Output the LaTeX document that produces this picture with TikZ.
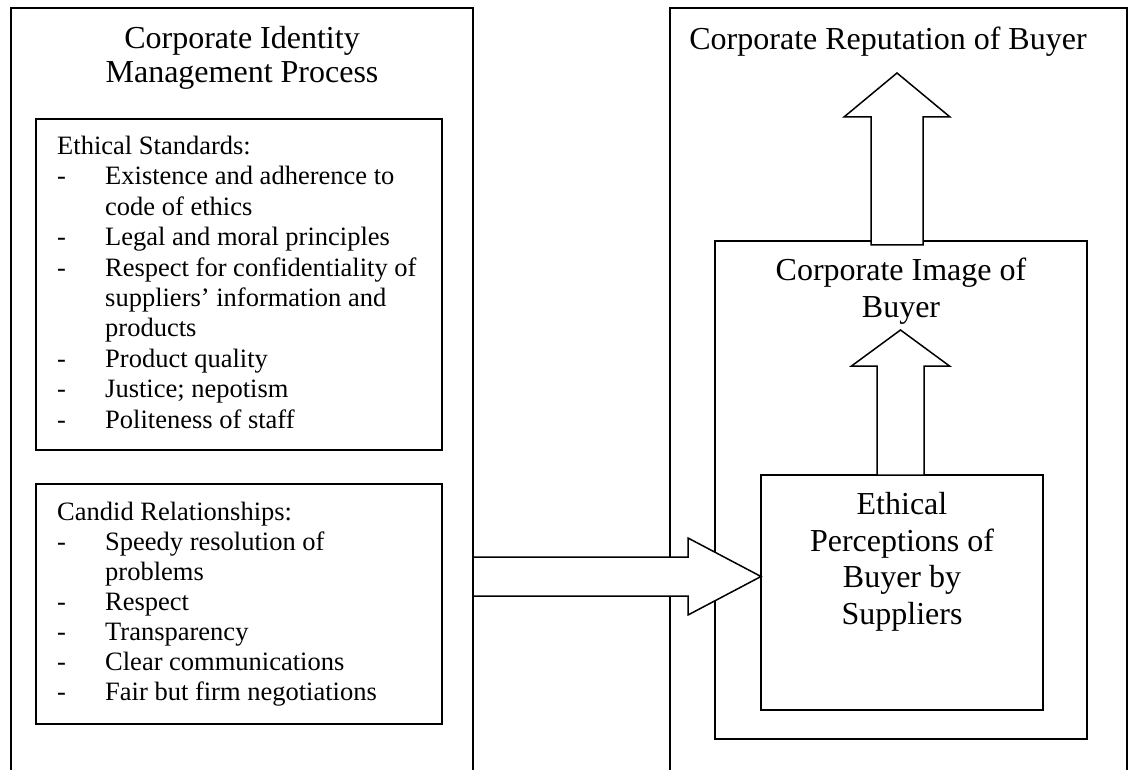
\documentclass[tikz,border=0pt]{standalone}
\usepackage{fontspec}
\setmainfont{Liberation Serif}
\usetikzlibrary{calc}
\newcommand\itm{\makebox[48pt][l]{-}}
\newcommand\cont{\hspace*{48pt}}
\begin{document}
\begin{tikzpicture}[x=1pt,y=-1pt,
  frame/.style={draw, line width=1.5pt, inner sep=0pt, outer sep=0pt},
  openframe/.style={inner sep=0pt, outer sep=0pt},
  edge/.style={line width=1.5pt},
  blockarrow/.style={draw, line width=1.5pt, fill=white, line join=miter},
  title/.style={font=\fontsize{32}{34}\selectfont, align=center, inner sep=0pt, anchor=base},
  listtext/.style={font=\fontsize{26.5}{30.4}\selectfont, align=left, inner sep=0pt, anchor=base west},
]
\useasboundingbox (0,0) rectangle (1130,770);

% outer open boxes
\node[openframe, minimum width=462pt, minimum height=772pt] (cimp) at (242,394) {};
\draw[edge] (cimp.south west) -- (cimp.north west) -- (cimp.north east) -- (cimp.south east);
\node[openframe, minimum width=457pt, minimum height=772pt] (crep) at (898.5,394) {};
\draw[edge] (crep.south west) -- (crep.north west) -- (crep.north east) -- (crep.south east);

% inner boxes
\node[frame, minimum width=406pt, minimum height=331pt] (ethstd) at (239,284.5) {};
\node[frame, minimum width=406pt, minimum height=240pt] (candid) at (239,604) {};
\node[frame, minimum width=372pt, minimum height=498pt] (cimage) at (901,490) {};
\node[frame, minimum width=282pt, minimum height=235pt] (percep) at (902,592.5) {};

% horizontal block arrow
\coordinate (hlev) at (0,576.5);
\coordinate (hs) at (cimp.east |- hlev);
\coordinate (ht) at (percep.west |- hlev);
\draw[blockarrow] ($(hs)+(0,-19.5)$) -- ($(ht)+(-73,-19.5)$) -- ($(ht)+(-73,-38.5)$) -- (ht)
  -- ($(ht)+(-73,38.5)$) -- ($(ht)+(-73,19.5)$) -- ($(hs)+(0,19.5)$) -- cycle;

% upward arrow: image -> reputation
\coordinate (rs) at ($(cimage.north)+(-4,4)$);
\coordinate (rt) at ($(rs)+(0,-172)$);
\draw[blockarrow] ($(rs)+(-26,0)$) -- ($(rt)+(-26,44)$) -- ($(rt)+(-53,44)$) -- (rt)
  -- ($(rt)+(53,44)$) -- ($(rt)+(26,44)$) -- ($(rs)+(26,0)$) -- cycle;

% upward arrow: perceptions -> image
\coordinate (ms) at ($(percep.north)+(-1.5,0)$);
\coordinate (mt) at ($(ms)+(0,-145)$);
\draw[blockarrow] ($(ms)+(-23.5,0)$) -- ($(mt)+(-23.5,36)$) -- ($(mt)+(-49,36)$) -- (mt)
  -- ($(mt)+(49,36)$) -- ($(mt)+(23.5,36)$) -- ($(ms)+(23.5,0)$) -- cycle;

% texts (anchor = baseline of the last line)
\node[title] (cimptitle) at (242,83) {Corporate Identity\\Management Process};
\node[title] (creptitle) at (888,50) {Corporate Reputation of Buyer};
\node[title, font=\fontsize{32}{37}\selectfont] (cimagetitle) at (901,317) {Corporate Image of\\Buyer};
\node[title, font=\fontsize{32}{36.5}\selectfont] (perceptext) at (902,624) {Ethical\\Perceptions of\\Buyer by\\Suppliers};

\node[listtext] (ethtext) at (57,428) {Ethical Standards:\\
\itm Existence and adherence to\\
\cont code of ethics\\
\itm Legal and moral principles\\
\itm Respect for confidentiality of\\
\cont suppliers’ information and\\
\cont products\\
\itm Product quality\\
\itm Justice; nepotism\\
\itm Politeness of staff};

\node[listtext, font=\fontsize{26.5}{30}\selectfont] (candtext) at (57,700) {Candid Relationships:\\
\itm Speedy resolution of\\
\cont problems\\
\itm Respect\\
\itm Transparency\\
\itm Clear communications\\
\itm Fair but firm negotiations};
\end{tikzpicture}
\end{document}
